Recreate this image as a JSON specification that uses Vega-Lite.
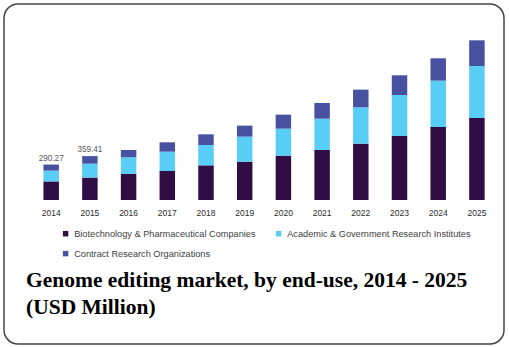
{
  "$schema": "https://vega.github.io/schema/vega-lite/v6.json",
  "width": 500,
  "height": 340,
  "autosize": {"type": "none"},
  "padding": {"left": 4, "top": 4, "right": 5, "bottom": 3},
  "background": "white",
  "title": {
    "text": ["Genome editing market, by end-use, 2014 - 2025", "(USD Million)"],
    "orient": "bottom",
    "anchor": "start",
    "frame": "group",
    "offset": -57,
    "dx": 22,
    "font": "Liberation Serif",
    "fontSize": 21.5,
    "fontWeight": "bold",
    "color": "#000000",
    "lineHeight": 27.3,
    "baseline": "alphabetic"
  },
  "config": {"view": {"stroke": "#444444", "strokeWidth": 1.5, "cornerRadius": 14}},
  "layer": [
    {
      "data": {"values": [
        {"year": "2014", "segment": "Biotechnology & Pharmaceutical Companies", "ord": 1, "value": 152.0},
        {"year": "2014", "segment": "Academic & Government Research Institutes", "ord": 2, "value": 88.5},
        {"year": "2014", "segment": "Contract Research Organizations", "ord": 3, "value": 49.77},
        {"year": "2015", "segment": "Biotechnology & Pharmaceutical Companies", "ord": 1, "value": 183.8},
        {"year": "2015", "segment": "Academic & Government Research Institutes", "ord": 2, "value": 113.6},
        {"year": "2015", "segment": "Contract Research Organizations", "ord": 3, "value": 62.01},
        {"year": "2016", "segment": "Biotechnology & Pharmaceutical Companies", "ord": 1, "value": 215.7},
        {"year": "2016", "segment": "Academic & Government Research Institutes", "ord": 2, "value": 133.8},
        {"year": "2016", "segment": "Contract Research Organizations", "ord": 3, "value": 60.1},
        {"year": "2017", "segment": "Biotechnology & Pharmaceutical Companies", "ord": 1, "value": 237.5},
        {"year": "2017", "segment": "Academic & Government Research Institutes", "ord": 2, "value": 158.3},
        {"year": "2017", "segment": "Contract Research Organizations", "ord": 3, "value": 76.4},
        {"year": "2018", "segment": "Biotechnology & Pharmaceutical Companies", "ord": 1, "value": 283.9},
        {"year": "2018", "segment": "Academic & Government Research Institutes", "ord": 2, "value": 166.5},
        {"year": "2018", "segment": "Contract Research Organizations", "ord": 3, "value": 87.4},
        {"year": "2019", "segment": "Biotechnology & Pharmaceutical Companies", "ord": 1, "value": 314.0},
        {"year": "2019", "segment": "Academic & Government Research Institutes", "ord": 2, "value": 204.8},
        {"year": "2019", "segment": "Contract Research Organizations", "ord": 3, "value": 90.1},
        {"year": "2020", "segment": "Biotechnology & Pharmaceutical Companies", "ord": 1, "value": 363.1},
        {"year": "2020", "segment": "Academic & Government Research Institutes", "ord": 2, "value": 221.1},
        {"year": "2020", "segment": "Contract Research Organizations", "ord": 3, "value": 114.7},
        {"year": "2021", "segment": "Biotechnology & Pharmaceutical Companies", "ord": 1, "value": 409.5},
        {"year": "2021", "segment": "Academic & Government Research Institutes", "ord": 2, "value": 256.6},
        {"year": "2021", "segment": "Contract Research Organizations", "ord": 3, "value": 128.3},
        {"year": "2022", "segment": "Biotechnology & Pharmaceutical Companies", "ord": 1, "value": 461.4},
        {"year": "2022", "segment": "Academic & Government Research Institutes", "ord": 2, "value": 297.6},
        {"year": "2022", "segment": "Contract Research Organizations", "ord": 3, "value": 144.7},
        {"year": "2023", "segment": "Biotechnology & Pharmaceutical Companies", "ord": 1, "value": 524.2},
        {"year": "2023", "segment": "Academic & Government Research Institutes", "ord": 2, "value": 335.8},
        {"year": "2023", "segment": "Contract Research Organizations", "ord": 3, "value": 161.1},
        {"year": "2024", "segment": "Biotechnology & Pharmaceutical Companies", "ord": 1, "value": 597.9},
        {"year": "2024", "segment": "Academic & Government Research Institutes", "ord": 2, "value": 379.5},
        {"year": "2024", "segment": "Contract Research Organizations", "ord": 3, "value": 182.9},
        {"year": "2025", "segment": "Biotechnology & Pharmaceutical Companies", "ord": 1, "value": 671.6},
        {"year": "2025", "segment": "Academic & Government Research Institutes", "ord": 2, "value": 425.9},
        {"year": "2025", "segment": "Contract Research Organizations", "ord": 3, "value": 210.2}
      ]},
      "mark": {"type": "bar"},
      "encoding": {
        "x": {
          "field": "year",
          "type": "ordinal",
          "scale": {"range": [20.1, 500], "paddingInner": 0.6, "paddingOuter": 0.5},
          "axis": {
            "title": null,
            "orient": "bottom",
            "offset": -144,
            "domain": false,
            "ticks": false,
            "tickSize": 0,
            "grid": false,
            "labelPadding": 8.5,
            "labelAngle": 0,
            "labelFont": "Liberation Sans",
            "labelFontSize": 8.5,
            "labelColor": "#2b2b2b"
          }
        },
        "y": {
          "field": "value",
          "type": "quantitative",
          "stack": "zero",
          "scale": {"domain": [0, 1605], "range": [196, 0], "nice": false},
          "axis": null
        },
        "color": {
          "field": "segment",
          "type": "nominal",
          "scale": {
            "domain": ["Biotechnology & Pharmaceutical Companies", "Contract Research Organizations", "Academic & Government Research Institutes"],
            "range": ["#300d45", "#4850a0", "#58cdf5"]
          },
          "legend": {
            "orient": "none",
            "legendX": 57,
            "legendY": 225,
            "columns": 2,
            "title": null,
            "symbolType": "square",
            "symbolSize": 30,
            "symbolStrokeWidth": 0,
            "labelFont": "Liberation Sans",
            "labelFontSize": 9.2,
            "labelColor": "#404040",
            "labelLimit": 300,
            "columnPadding": 18,
            "rowPadding": 10
          }
        },
        "order": {"field": "ord", "type": "quantitative"}
      }
    },
    {
      "data": {"values": [
        {"year": "2014", "total": 290.27, "label": "290.27"},
        {"year": "2015", "total": 359.41, "label": "359.41"}
      ]},
      "mark": {"type": "text", "dy": -4, "baseline": "alphabetic", "font": "Liberation Sans", "fontSize": 8.2, "color": "#595959"},
      "encoding": {
        "x": {"field": "year", "type": "ordinal"},
        "y": {"field": "total", "type": "quantitative"},
        "text": {"field": "label"}
      }
    }
  ]
}
